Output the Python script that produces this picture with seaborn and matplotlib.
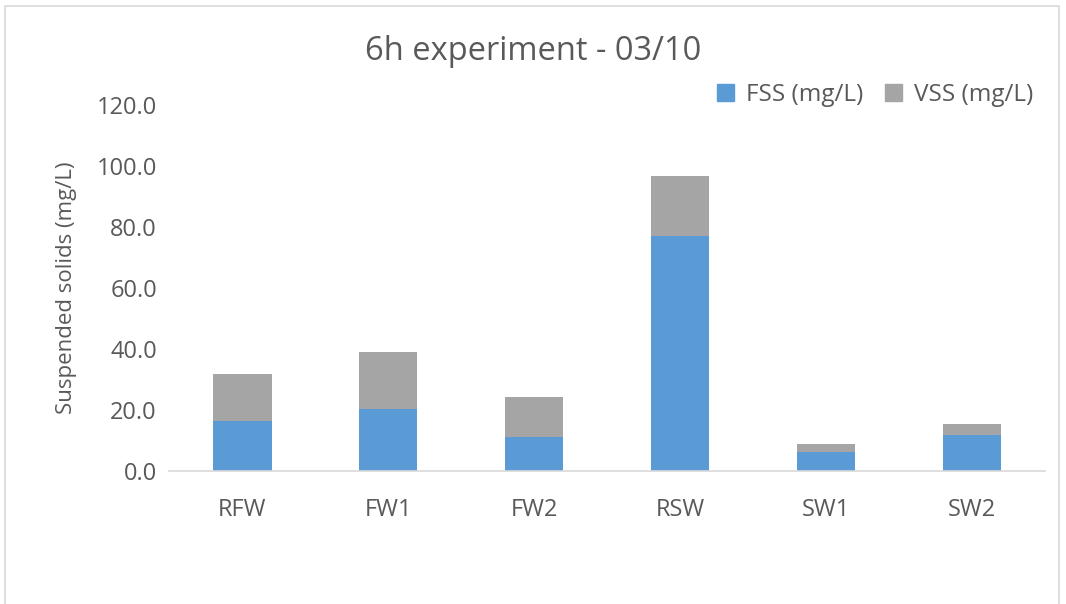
import pandas as pd
import matplotlib.pyplot as plt
import seaborn as sns
from matplotlib.patches import Rectangle, Patch

# values
sites = ["RFW", "FW1", "FW2", "RSW", "SW1", "SW2"]
fss = [16.5, 20.4, 11.1, 77.1, 6.3, 11.9]
vss = [15.3, 18.5, 13.2, 19.6, 2.5, 3.7]

df = pd.DataFrame({"site": sites, "FSS": fss, "VSS": vss})
df["total"] = df["FSS"] + df["VSS"]

sns.set_style("white")
plt.rcParams['font.family'] = ['Open Sans', 'DejaVu Sans']

fig = plt.figure(figsize=(10.66, 6.04), dpi=100)
ax = fig.add_axes([0.159, 0.22, 0.821, 0.606])

blue = "#5B9BD5"
grey = "#A5A5A5"
txt = "#595959"

# stacked: draw total in grey, then FSS in blue on top
sns.barplot(data=df, x="site", y="total", color=grey, width=0.4, ax=ax, saturation=1, linewidth=0)
sns.barplot(data=df, x="site", y="FSS", color=blue, width=0.4, ax=ax, saturation=1, linewidth=0)

ax.set_ylim(0, 120)
ax.set_yticks(range(0, 121, 20))
ax.set_yticklabels([f"{v:.1f}" for v in range(0, 121, 20)])
ax.set_xlim(-0.5, 5.5)
ax.set_xlabel("")
ax.set_ylabel("Suspended solids (mg/L)", fontsize=16, color=txt, labelpad=14)
ax.tick_params(axis="both", labelsize=17, colors=txt, length=0, pad=9)
ax.tick_params(axis="x", pad=19)

for s in ["top", "right", "left"]:
    ax.spines[s].set_visible(False)
ax.spines["bottom"].set_color("#D9D9D9")
ax.spines["bottom"].set_linewidth(1.2)

fig.text(0.5, 0.915, "6h experiment - 03/10", ha="center", va="center", fontsize=23.5, color=txt)

handles = [Patch(color=blue, label="FSS (mg/L)"), Patch(color=grey, label="VSS (mg/L)")]
fig.legend(handles=handles, loc="center right", bbox_to_anchor=(0.99, 0.842), ncol=2, frameon=False,
           fontsize=17.5, labelcolor=txt, handlelength=0.7, handleheight=0.7, handletextpad=0.5,
           columnspacing=0.9)

fig.patches.append(Rectangle((0.005, -0.01), 0.988, 1.0, transform=fig.transFigure, fill=False,
                             edgecolor="#D9D9D9", linewidth=1.2))

fig.savefig("out.png", dpi=100)
